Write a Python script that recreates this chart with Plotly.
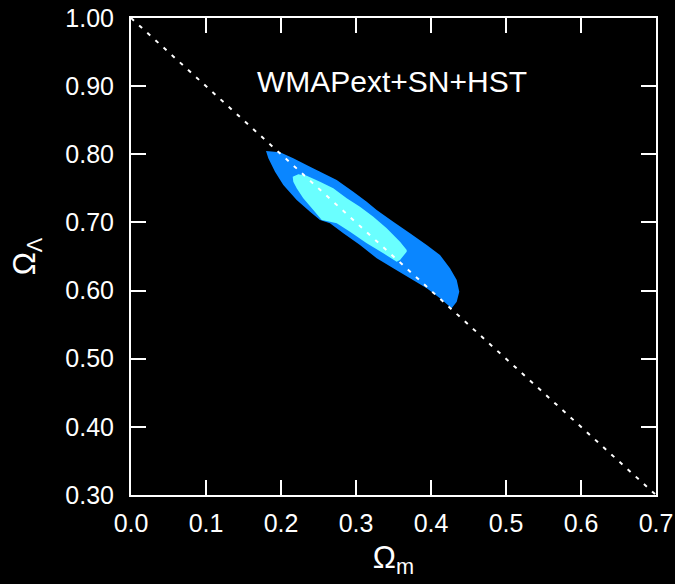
import plotly.graph_objects as go

# 95% confidence region (outer contour) in the (Omega_m, Omega_Lambda) plane
outer_om = [0.1800, 0.1987, 0.2164, 0.2387, 0.2609, 0.2743, 0.2964, 0.3143, 0.3276,
            0.3497, 0.3720, 0.3943, 0.4120, 0.4253, 0.4343, 0.4377, 0.4343, 0.4276,
            0.4120, 0.3943, 0.3720, 0.3497, 0.3276, 0.3053, 0.2831, 0.2653, 0.2520,
            0.2387, 0.2209, 0.2031, 0.1920, 0.1831]
outer_ol = [0.8048, 0.8029, 0.7941, 0.7818, 0.7696, 0.7623, 0.7451, 0.7304, 0.7183,
            0.7011, 0.6841, 0.6669, 0.6522, 0.6327, 0.6155, 0.5984, 0.5837, 0.5740,
            0.5887, 0.6033, 0.6180, 0.6327, 0.6474, 0.6669, 0.6841, 0.6987, 0.7036,
            0.7158, 0.7329, 0.7550, 0.7745, 0.7941]

# 68% confidence region (inner contour)
inner_om = [0.2156, 0.2231, 0.2343, 0.2520, 0.2697, 0.2876, 0.3053, 0.3231, 0.3409,
            0.3587, 0.3676, 0.3676, 0.3587, 0.3543, 0.3364, 0.3143, 0.2920, 0.2743,
            0.2653, 0.2543, 0.2431, 0.2297, 0.2209, 0.2164]
inner_ol = [0.7671, 0.7706, 0.7686, 0.7598, 0.7501, 0.7354, 0.7231, 0.7084, 0.6914,
            0.6717, 0.6596, 0.6571, 0.6449, 0.6424, 0.6547, 0.6694, 0.6864, 0.6987,
            0.7011, 0.7036, 0.7183, 0.7354, 0.7501, 0.7598]

# Flat universe: Omega_m + Omega_Lambda = 1
flat_om = [0.0, 0.7]
flat_ol = [1.0, 0.3]

x_ticks = [0.0, 0.1, 0.2, 0.3, 0.4, 0.5, 0.6, 0.7]
y_ticks = [0.30, 0.40, 0.50, 0.60, 0.70, 0.80, 0.90, 1.00]

FONT = "Liberation Sans, Arial, sans-serif"

fig = go.Figure()
fig.add_trace(go.Scatter(x=outer_om, y=outer_ol, fill="toself", mode="none",
                         fillcolor="#0a86ff", hoverinfo="skip", showlegend=False))
fig.add_trace(go.Scatter(x=inner_om, y=inner_ol, fill="toself", mode="none",
                         fillcolor="#6affff", hoverinfo="skip", showlegend=False))
fig.add_trace(go.Scatter(x=flat_om, y=flat_ol, mode="lines",
                         line=dict(color="white", width=2, dash="4px,7px"),
                         hoverinfo="skip", showlegend=False))

axis_common = dict(
    showgrid=False, zeroline=False, automargin=False,
    showline=True, linecolor="white", linewidth=2, mirror="ticks",
    ticks="inside", ticklen=15, tickwidth=2, tickcolor="white",
    tickfont=dict(family=FONT, size=25, color="white"),
)

fig.update_xaxes(range=[0, 0.7], tickvals=x_ticks, tickformat=".1f",
                 ticklabelstandoff=5,
                 title=dict(text="Ω<sub>m</sub>", standoff=10,
                            font=dict(family=FONT, size=31, color="white")),
                 **axis_common)
fig.update_yaxes(range=[0.3, 1.0], tickvals=y_ticks, tickformat=".2f",
                 ticklabelstandoff=10,
                 title=dict(text="Ω<sub>Λ</sub>", standoff=20,
                            font=dict(family=FONT, size=31, color="white")),
                 **axis_common)

fig.add_annotation(x=0.348, y=0.907, xref="x", yref="y", text="WMAPext+SN+HST",
                   showarrow=False,
                   font=dict(family=FONT, size=30, color="white"))

fig.update_layout(
    template="none",
    width=675, height=584,
    margin=dict(l=131, r=19, t=18, b=89),
    paper_bgcolor="black", plot_bgcolor="black",
)

fig.write_html("out.html")
